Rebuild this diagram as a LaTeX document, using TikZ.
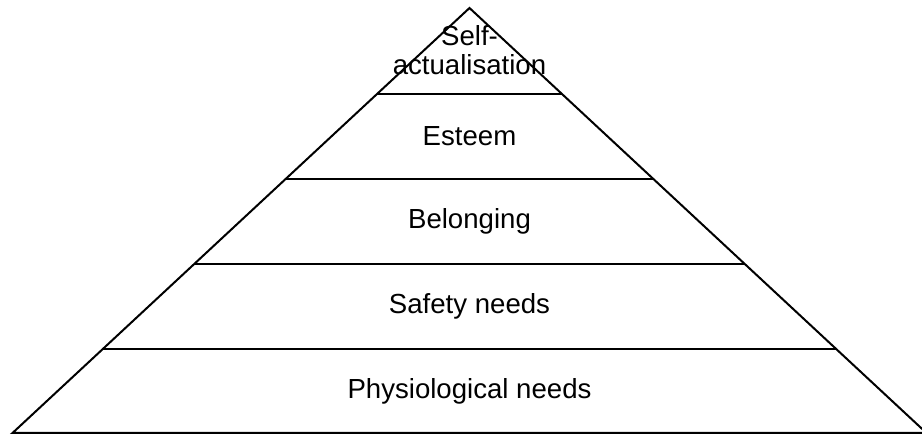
\documentclass[tikz,border=0pt]{standalone}
\usepackage{fontspec}
\setmainfont{Liberation Sans}
\usetikzlibrary{calc}
\begin{document}
\begin{tikzpicture}[x=1pt,y=-1pt,
  edge/.style={line width=2pt,line join=miter},
  lbl/.style={font=\fontsize{27.6}{29.5}\selectfont,align=center,inner sep=0pt}]
\useasboundingbox (0,0) rectangle (922,435);
\coordinate (apex) at (469.5,8);
\coordinate (bl) at (12.5,433);
\coordinate (br) at (926.5,433);
\draw[edge] (bl) -- (apex) -- (br) -- cycle;
\foreach \y/\n in {94/a,179/b,264/c,349/d}{
  \pgfmathsetmacro{\hw}{(\y-8)*1.0753}
  \coordinate (l\n) at (469.5-\hw,\y);
  \coordinate (r\n) at (469.5+\hw,\y);
  \draw[edge] (l\n) -- (r\n);
}
\node[lbl] (self) at (469.5,50) {Self-\\actualisation};
\node[lbl] (esteem) at (469.5,136.5) {Esteem};
\node[lbl] (belong) at (469.5,221.5) {Belonging};
\node[lbl] (safety) at (469.5,306.5) {Safety needs};
\node[lbl] (phys) at (469.5,391) {Physiological needs};
\end{tikzpicture}
\end{document}
